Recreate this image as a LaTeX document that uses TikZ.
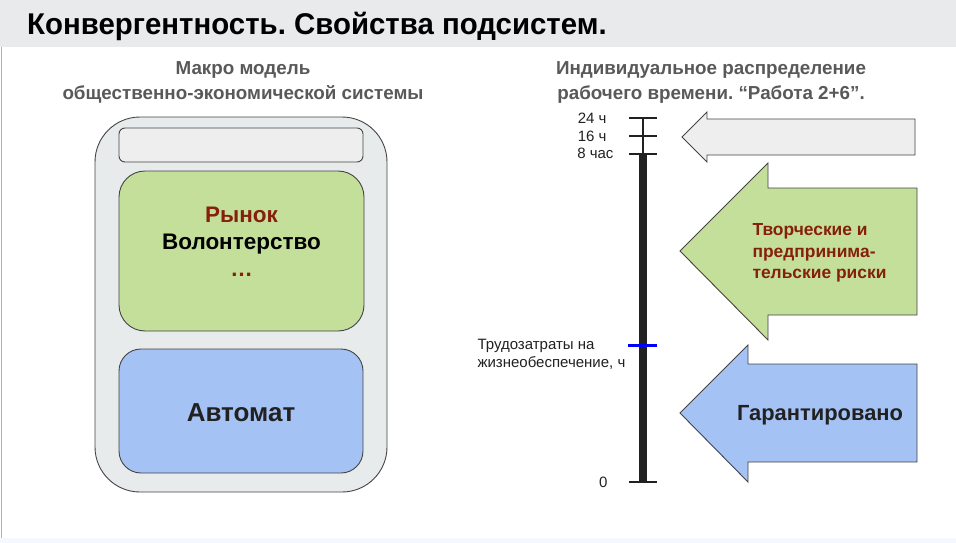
\documentclass[tikz,border=0pt]{standalone}
\usepackage{fontspec}
\setmainfont{Liberation Sans}
\newfontfamily\titlefont[FakeStretch=0.98]{Liberation Sans}
\frenchspacing
\definecolor{barGray}{HTML}{E8EAEB}
\definecolor{outerGray}{HTML}{E8EBEC}
\definecolor{lightGray}{HTML}{EEEEEE}
\definecolor{greenFill}{HTML}{C4DF9A}
\definecolor{blueFill}{HTML}{A4C2F4}
\definecolor{darkRed}{HTML}{85200C}
\definecolor{headGray}{HTML}{595959}
\definecolor{edgeGray}{HTML}{444444}
\definecolor{txt}{HTML}{212121}
\definecolor{pureBlue}{HTML}{0000FF}
\tikzset{
  box/.style={draw=edgeGray, line width=0.9pt},
  arrowshape/.style={draw=edgeGray, line width=0.9pt, line join=miter},
  head/.style={font=\bfseries\fontsize{18.8}{25}\selectfont, text=headGray, align=center},
  tick/.style={line width=1.6pt, draw=txt},
  axlabel/.style={font=\fontsize{15}{18}\selectfont, text=txt},
}
\begin{document}
\begin{tikzpicture}[x=1pt,y=-1pt]
\useasboundingbox (0,0) rectangle (956,543);
\fill[white] (0,0) rectangle (956,543);
\fill[barGray] (0,0) rectangle (956,47);
\fill[blue!3] (0,538) rectangle (956,543);
\draw[gray!60, line width=0.8pt] (1,47) -- (1,538);
\node[anchor=base west, inner sep=0, font=\titlefont\bfseries\fontsize{30}{34}\selectfont] (title) at (27,35) {Конвергентность. Свойства подсистем.};

% headings
\node[head] (lhead) at (243,82) {Макро модель\\общественно-экономической системы};
\node[head] (rhead) at (711,82) {Индивидуальное распределение\\рабочего времени. “Работа 2+6”.};

% left model
\draw[box, fill=outerGray, rounded corners=45pt] (95,117) rectangle (387,492);
\draw[box, fill=lightGray, rounded corners=6pt] (119,128) rectangle (363,162);
\draw[box, fill=greenFill, rounded corners=26pt] (119,171) rectangle (364,331);
\draw[box, fill=blueFill, rounded corners=22pt] (119,349) rectangle (363,473);
\node[align=center, font=\bfseries\fontsize{22.5}{27}\selectfont] (market) at (241.5,242)
  {\textcolor{darkRed}{Рынок}\\\textcolor{black}{Волонтерство}\\\textcolor{darkRed}{…}};
\node[font=\bfseries\fontsize{26}{30}\selectfont, text=txt] (auto) at (241,413) {Автомат};

% axis
\coordinate (a24) at (643,118);
\coordinate (a16) at (643,136);
\coordinate (a8) at (643,154);
\coordinate (a0) at (643,482);
\draw[line width=2pt, draw=txt] (a24) -- (a8);
\draw[line width=8pt, draw=txt] (a8) -- (a0);
\foreach \c in {a24,a16,a8,a0} \draw[tick] ([xshift=-14pt]\c) -- ([xshift=14pt]\c);
\draw[line width=3pt, draw=pureBlue] (628,345) -- (657,345);
\node[axlabel, anchor=east] (l24) at (610,118) {24 ч};
\node[axlabel, anchor=east] (l16) at (610,136) {16 ч};
\node[axlabel, anchor=east] (l8) at (617,153) {8 час};
\node[axlabel, anchor=east] (l0) at (611,482) {0};
\node[axlabel, anchor=west, align=left] (ltr) at (474,354) {Трудозатраты на\\жизнеобеспечение, ч};

% arrows
\draw[arrowshape, fill=lightGray] (682,137) -- (707,112) -- (707,119) -- (915,119) -- (915,155) -- (707,155) -- (707,162) -- cycle;
\draw[arrowshape, fill=greenFill] (680,251) -- (768,163) -- (768,188) -- (917,188) -- (917,315) -- (768,315) -- (768,340) -- cycle;
\draw[arrowshape, fill=blueFill] (680,413) -- (748,345) -- (748,364) -- (917,364) -- (917,462) -- (748,462) -- (748,482) -- cycle;
\node[anchor=west, align=left, text=darkRed, font=\bfseries\fontsize{17.4}{21.5}\selectfont] (risk) at (749,253) {Творческие и\\предпринима-\\тельские риски};
\node[font=\bfseries\fontsize{21.9}{26}\selectfont, text=txt] (guar) at (820,415) {Гарантировано};
\end{tikzpicture}
\end{document}
